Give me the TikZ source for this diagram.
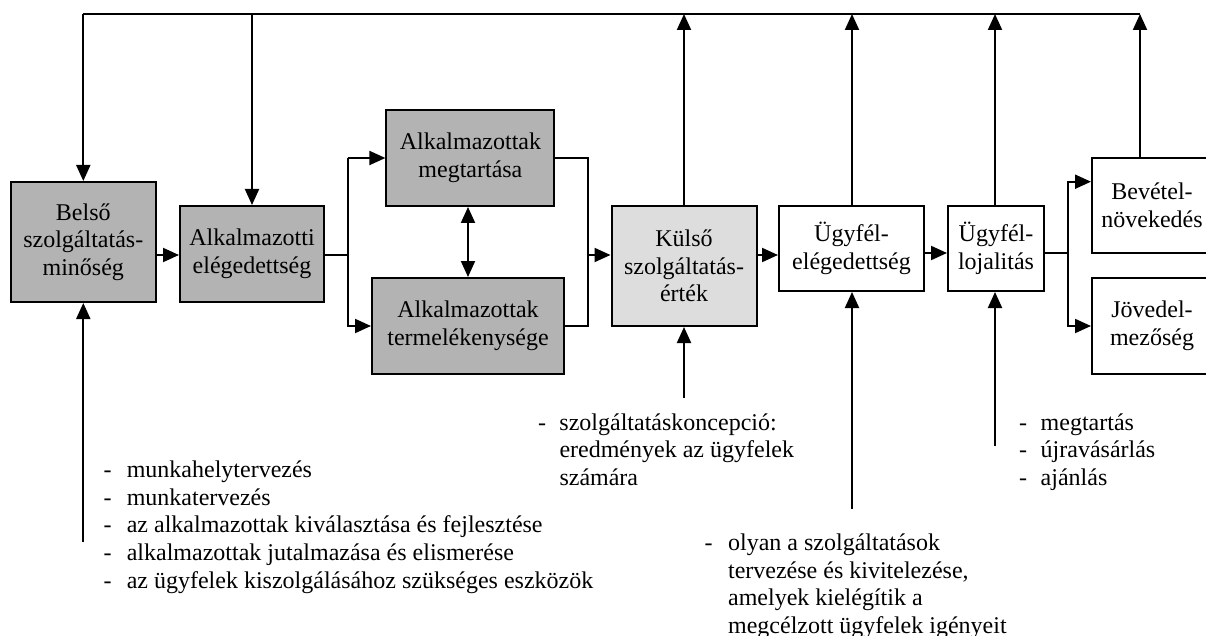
\documentclass[tikz,border=0pt]{standalone}
\usepackage{fontspec}
\setmainfont{Liberation Serif}
\usetikzlibrary{arrows.meta}
\definecolor{darkbox}{HTML}{B3B3B3}
\definecolor{lightbox}{HTML}{DDDDDD}
\begin{document}
\begin{tikzpicture}[x=1pt,y=-1pt,
  line width=2pt,
  box/.style={draw, line width=2pt, align=center, inner sep=0pt,
    font=\fontsize{24}{27.7}\selectfont},
  arr/.style={-{Triangle[length=16pt,width=14pt]}},
  dbl/.style={{Triangle[length=16pt,width=14pt]}-{Triangle[length=16pt,width=14pt]}},
  lst/.style={anchor=base west, inner sep=0pt, font=\fontsize{24}{27.7}\selectfont}]
\useasboundingbox (0,0) rectangle (1206,636);
\clip (0,0) rectangle (1206,636);
% boxes
\node[box, fill=darkbox, minimum width=145pt, minimum height=120pt] (B1) at (83.3,242) {Belső\\szolgáltatás-\\minőség};
\node[box, fill=darkbox, minimum width=144pt, minimum height=96pt] (B2) at (252,254) {Alkalmazotti\\elégedettség};
\node[box, fill=darkbox, minimum width=168pt, minimum height=96pt] (B3) at (470.4,158) {Alkalmazottak\\megtartása};
\node[box, fill=darkbox, minimum width=192pt, minimum height=96pt] (B4) at (468,326) {Alkalmazottak\\termelékenysége};
\node[box, fill=lightbox, minimum width=145pt, minimum height=120pt] (B5) at (684,266) {Külső\\szolgáltatás-\\érték};
\node[box, fill=white, minimum width=145pt, minimum height=85pt] (B6) at (851.5,248.5) {Ügyfél-\\elégedettség};
\node[box, fill=white, minimum width=96pt, minimum height=85pt] (B7) at (996,248.5) {Ügyfél-\\lojalitás};
\node[box, fill=white, minimum width=120pt, minimum height=95pt] (B8) at (1152,205.5) {Bevétel-\\növekedés};
\node[box, fill=white, minimum width=120pt, minimum height=96pt] (B9) at (1152,326) {Jövedel-\\mezőség};
% coordinates
\coordinate (TL) at (83.3,14);
\coordinate (TR) at (1140,14);
\coordinate (S1) at (347.5,255);
\coordinate (S2) at (587.5,255);
\coordinate (S3) at (1067.5,253);
\coordinate (L1) at (83.3,542);
\coordinate (L2) at (684,398);
\coordinate (L3) at (852,509);
\coordinate (L4) at (995,446);
% top feedback line
\draw (TL) -- (TR);
\draw[arr] (TL) -- (B1.north);
\draw[arr] (B2.north |- TL) -- (B2.north);
\draw[arr] (B5.north) -- (B5.north |- TL);
\draw[arr] (L3 |- B6.north) -- (L3 |- TL);
\draw[arr] (L4 |- B7.north) -- (L4 |- TL);
\draw[arr] (TR |- B8.north) -- (TR);
% main chain
\draw[arr] (B1.east |- S1) -- (B2.west |- S1);
\draw (B2.east |- S1) -- (S1);
\draw[arr] (S1 |- B3.west) -- (B3.west);
\draw[arr] (S1) -- (S1 |- B4.west) -- (B4.west);
\draw (S1) -- (S1 |- B3.west);
\draw[dbl] (B3.south -| B4.north) -- (B4.north);
\draw (B3.east) -| (S2);
\draw (B4.east) -| (S2);
\draw[arr] (S2) -- (B5.west |- S2);
\draw[arr] (B5.east |- S2) -- (B6.west |- S2);
\draw[arr] (B6.east |- S3) -- (B7.west |- S3);
\draw (B7.east |- S3) -- (S3);
\draw[arr] (S3) -- (S3 |- 0,181.7) -- (B8.west |- 0,181.7);
\draw[arr] (S3) -- (S3 |- B9.west) -- (B9.west);
% inputs from below
\draw[arr] (L1) -- (B1.south);
\draw[arr] (L2) -- (B5.south);
\draw[arr] (L3) -- (L3 |- B6.south);
\draw[arr] (L4) -- (L4 |- B7.south);
% lists
\node[lst] (T1) at (102.5,477.5) {\parbox[t]{600pt}{\fontsize{24}{27.7}\selectfont\raggedright
\makebox[23.3pt][l]{-}munkahelytervezés\\
\makebox[23.3pt][l]{-}munkatervezés\\
\makebox[23.3pt][l]{-}az alkalmazottak kiválasztása és fejlesztése\\
\makebox[23.3pt][l]{-}alkalmazottak jutalmazása és elismerése\\
\makebox[23.3pt][l]{-}az ügyfelek kiszolgálásához szükséges eszközök}};
\node[lst] (T2) at (537.2,430) {\parbox[t]{400pt}{\fontsize{24}{27.7}\selectfont\raggedright
\makebox[21.3pt][l]{-}szolgáltatáskoncepció:\\
\hspace*{21.3pt}eredmények az ügyfelek\\
\hspace*{21.3pt}számára}};
\node[lst] (T3) at (703.5,550.5) {\parbox[t]{400pt}{\fontsize{24}{27.5}\selectfont\raggedright
\makebox[23.6pt][l]{-}olyan a szolgáltatások\\
\hspace*{23.6pt}tervezése és kivitelezése,\\
\hspace*{23.6pt}amelyek kielégítik a\\
\hspace*{23.6pt}megcélzott ügyfelek igényeit}};
\node[lst] (T4) at (1018.2,430) {\parbox[t]{300pt}{\fontsize{24}{27.7}\selectfont\raggedright
\makebox[21.5pt][l]{-}megtartás\\
\makebox[21.5pt][l]{-}újravásárlás\\
\makebox[21.5pt][l]{-}ajánlás}};
\end{tikzpicture}
\end{document}
